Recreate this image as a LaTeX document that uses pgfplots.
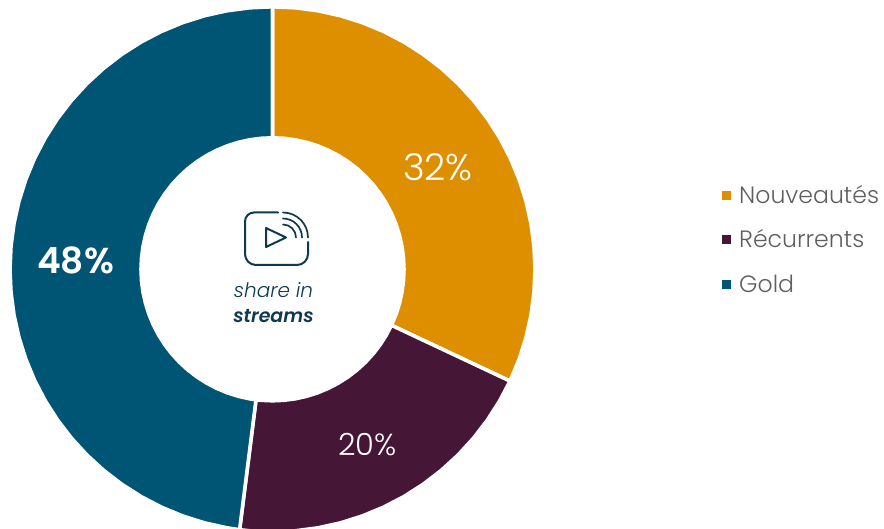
\documentclass[border=0pt]{standalone}
\usepackage{fontspec}
\setmainfont{Poppins}[UprightFont=* Light,ItalicFont=* Light Italic,BoldFont=* SemiBold,BoldItalicFont=* SemiBold Italic]
\usepackage{pgfplots}
\pgfplotsset{compat=1.18}
\usepgfplotslibrary{polar}
\definecolor{cOr}{HTML}{DE8F00}
\definecolor{cPl}{HTML}{451636}
\definecolor{cBl}{HTML}{005474}
\definecolor{cTx}{HTML}{5F5F5F}
\definecolor{cDk}{HTML}{0E3A50}
\begin{document}
\begin{tikzpicture}[x=1pt,y=1pt]
\useasboundingbox (0,0) rectangle (884,528);
\begin{polaraxis}[at={(272.5pt,258.7pt)},anchor=center,scale only axis,width=526pt,height=526pt,
  xmin=0,xmax=360,ymin=0,ymax=262,hide axis,clip=false]
% Nouveautes 32%
\addplot[fill=cOr,draw=white,line width=3.6pt,line join=miter] coordinates {
(90,261.5)(85,261.5)(80,261.5)(75,261.5)(70,261.5)(65,261.5)(60,261.5)(55,261.5)(50,261.5)(45,261.5)(40,261.5)(35,261.5)(30,261.5)(25,261.5)(20,261.5)(15,261.5)(10,261.5)(5,261.5)(0,261.5)(-5,261.5)(-10,261.5)(-15,261.5)(-20,261.5)(-25.2,261.5)
(-25.2,131)(-20,131)(-15,131)(-10,131)(-5,131)(0,131)(5,131)(10,131)(15,131)(20,131)(25,131)(30,131)(35,131)(40,131)(45,131)(50,131)(55,131)(60,131)(65,131)(70,131)(75,131)(80,131)(85,131)(90,131)
} -- cycle;
% Recurrents 20%
\addplot[fill=cPl,draw=white,line width=3.6pt,line join=miter] coordinates {
(-25.2,261.5)(-30,261.5)(-35,261.5)(-40,261.5)(-45,261.5)(-50,261.5)(-55,261.5)(-60,261.5)(-65,261.5)(-70,261.5)(-75,261.5)(-80,261.5)(-85,261.5)(-90,261.5)(-95,261.5)(-97.2,261.5)
(-97.2,131)(-95,131)(-90,131)(-85,131)(-80,131)(-75,131)(-70,131)(-65,131)(-60,131)(-55,131)(-50,131)(-45,131)(-40,131)(-35,131)(-30,131)(-25.2,131)
} -- cycle;
% Gold 48%
\addplot[fill=cBl,draw=white,line width=3.6pt,line join=miter] coordinates {
(-97.2,261.5)(-100,261.5)(-105,261.5)(-110,261.5)(-115,261.5)(-120,261.5)(-125,261.5)(-130,261.5)(-135,261.5)(-140,261.5)(-145,261.5)(-150,261.5)(-155,261.5)(-160,261.5)(-165,261.5)(-170,261.5)(-175,261.5)(-180,261.5)(-185,261.5)(-190,261.5)(-195,261.5)(-200,261.5)(-205,261.5)(-210,261.5)(-215,261.5)(-220,261.5)(-225,261.5)(-230,261.5)(-235,261.5)(-240,261.5)(-245,261.5)(-250,261.5)(-255,261.5)(-260,261.5)(-265,261.5)(-270,261.5)
(-270,131)(-265,131)(-260,131)(-255,131)(-250,131)(-245,131)(-240,131)(-235,131)(-230,131)(-225,131)(-220,131)(-215,131)(-210,131)(-205,131)(-200,131)(-195,131)(-190,131)(-185,131)(-180,131)(-175,131)(-170,131)(-165,131)(-160,131)(-155,131)(-150,131)(-145,131)(-140,131)(-135,131)(-130,131)(-125,131)(-120,131)(-115,131)(-110,131)(-105,131)(-100,131)(-97.2,131)
} -- cycle;
\end{polaraxis}
% value labels
\node[white,font=\fontsize{37}{37}\selectfont] at (438,361) {32\%};
\node[white,font=\fontsize{30.5}{31}\selectfont] at (367.5,83) {20\%};
\node[white,font=\bfseries\fontsize{36}{36}\selectfont] at (75.5,268) {48\%};
% centre text
\node[cDk,font=\itshape\fontsize{20}{20}\selectfont] at (273.5,238) {share in};
\node[cDk,font=\bfseries\itshape\fontsize{19}{19}\selectfont] at (273.5,212) {streams};
% icon
\begin{scope}[cDk,line width=2pt,line cap=round,line join=round]
\draw (278,315.5) -- (254,315.5) arc (90:180:9) -- (245,274) arc (180:270:11) -- (297,263) arc (270:360:11) -- (308,286);
\draw (266,300) -- (266,281) -- (286,290.5) -- cycle;
\draw[line width=1.7pt] (283,315.5) arc (90:0:25);
\draw[line width=1.7pt] (283,309.5) arc (90:0:19);
\draw[line width=1.7pt] (283,303.5) arc (90:0:13);
\end{scope}
% legend
\foreach \c/\t/\y in {cOr/Nouveautés/332,cPl/Récurrents/288,cBl/Gold/243.5}{
  \fill[\c] (722,\y-4.5) rectangle (731,\y+4.5);
  \node[cTx,anchor=base west,inner sep=0pt,font=\fontsize{23.6}{24}\selectfont] at (739,\y-8) {\t};
}
\end{tikzpicture}
\end{document}
